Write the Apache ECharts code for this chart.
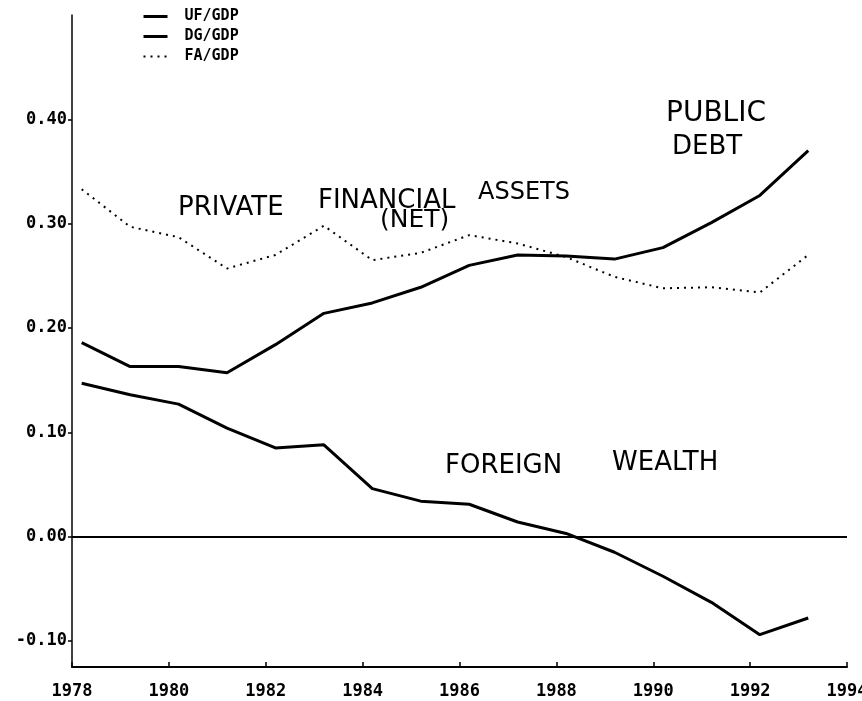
<!DOCTYPE html>
<html>
<head>
<meta charset="utf-8">
<script src="https://cdn.jsdelivr.net/npm/echarts@6/dist/echarts.min.js"></script>
<style>
  html, body { margin: 0; padding: 0; background: #fff; }
  #chart { width: 862px; height: 701px; }
</style>
</head>
<body>
<div id="chart"></div>
<script>
// observation positions on the year axis (points sit a little after each year mark)
const years = [1978.2, 1979.2, 1980.2, 1981.2, 1982.2, 1983.2, 1984.2, 1985.2,
               1986.2, 1987.2, 1988.2, 1989.2, 1990.2, 1991.2, 1992.2, 1993.2];
// foreign wealth / GDP
const ufGdp = [0.147, 0.136, 0.127, 0.104, 0.085, 0.088, 0.046, 0.034,
               0.031, 0.014, 0.003, -0.015, -0.038, -0.063, -0.094, -0.078];
// public debt / GDP
const dgGdp = [0.186, 0.163, 0.163, 0.157, 0.184, 0.214, 0.224, 0.239,
               0.260, 0.270, 0.269, 0.266, 0.277, 0.301, 0.327, 0.370];
// private financial assets (net) / GDP
const faGdp = [0.333, 0.297, 0.287, 0.257, 0.270, 0.298, 0.265, 0.272,
               0.289, 0.281, 0.268, 0.249, 0.238, 0.239, 0.234, 0.270];
const yTicks = [-0.1, 0, 0.1, 0.2, 0.3, 0.4];

const tickFont = { fontFamily: 'DejaVu Sans Mono', fontWeight: 'bold', fontSize: 17, color: '#000' };
const handFont = { fontFamily: 'DejaVu Sans', fontSize: 26, fill: '#000' };

const pairs = (vals) => years.map((x, i) => [x, vals[i]]);

// handwritten note helper
const note = (text, left, top, extra) => ({
    type: 'text', left: left, top: top,
    style: Object.assign({ text: text }, handFont, extra || {})
});

const myChart = echarts.init(document.getElementById('chart'), null, { renderer: 'canvas' });

const option = {
    animation: false,
    backgroundColor: '#fff',
    grid: { left: 72, right: 15, top: 15, bottom: 34, containLabel: false, outerBoundsMode: 'none' },
    legend: {
        orient: 'vertical',
        left: 137,
        top: 4,
        itemWidth: 24,
        itemHeight: 14,
        itemGap: 5,
        itemStyle: { opacity: 0 },
        textStyle: {
            fontFamily: 'DejaVu Sans Mono', fontWeight: 'bold', fontSize: 15, color: '#000',
            lineHeight: 15, padding: [0, 0, 0, 12]
        },
        data: [
            { name: 'UF/GDP', lineStyle: { width: 3 } },
            { name: 'DG/GDP', lineStyle: { width: 3 } },
            { name: 'FA/GDP', lineStyle: { width: 2 } }
        ]
    },
    xAxis: {
        type: 'value',
        min: 1978,
        max: 1994,
        interval: 2,
        axisLine: { show: true, onZero: false, lineStyle: { color: '#000', width: 2 } },
        axisTick: { show: true, inside: true, length: 5, lineStyle: { color: '#000', width: 1.5 } },
        axisLabel: Object.assign({ margin: 16, formatter: (v) => String(v) }, tickFont),
        splitLine: { show: false }
    },
    yAxis: {
        type: 'value',
        min: -0.125,
        max: 0.5,
        axisLine: { show: true, lineStyle: { color: '#000', width: 1.5 } },
        axisTick: { show: true, length: 4, customValues: yTicks, lineStyle: { color: '#000', width: 1.5 } },
        axisLabel: Object.assign({ margin: 5, customValues: yTicks, formatter: (v) => v.toFixed(2) }, tickFont),
        splitLine: { show: false }
    },
    series: [
        {
            name: 'UF/GDP',
            type: 'line',
            symbol: 'none',
            data: pairs(ufGdp),
            lineStyle: { color: '#000', width: 3 },
            itemStyle: { color: '#000' },
            // horizontal zero line
            markLine: {
                silent: true,
                symbol: 'none',
                label: { show: false },
                lineStyle: { color: '#000', width: 2, type: 'solid' },
                data: [{ yAxis: 0 }]
            }
        },
        {
            name: 'DG/GDP',
            type: 'line',
            symbol: 'none',
            data: pairs(dgGdp),
            lineStyle: { color: '#000', width: 3 },
            itemStyle: { color: '#000' }
        },
        {
            name: 'FA/GDP',
            type: 'line',
            symbol: 'none',
            data: pairs(faGdp),
            lineStyle: { color: '#000', width: 2, type: [2, 5] },
            itemStyle: { color: '#000' }
        }
    ],
    // handwritten notes on the scan
    graphic: [
        note('PRIVATE', 178, 195),
        note('FINANCIAL', 318, 188),
        note('ASSETS', 478, 181, { fontSize: 24 }),
        note('(NET)', 380, 208, { fontSize: 25 }),
        note('PUBLIC', 666, 100, { fontSize: 28 }),
        note('DEBT', 672, 134, { fontSize: 26 }),
        note('FOREIGN', 445, 453),
        note('WEALTH', 612, 450)
    ]
};

myChart.setOption(option);
</script>
</body>
</html>
